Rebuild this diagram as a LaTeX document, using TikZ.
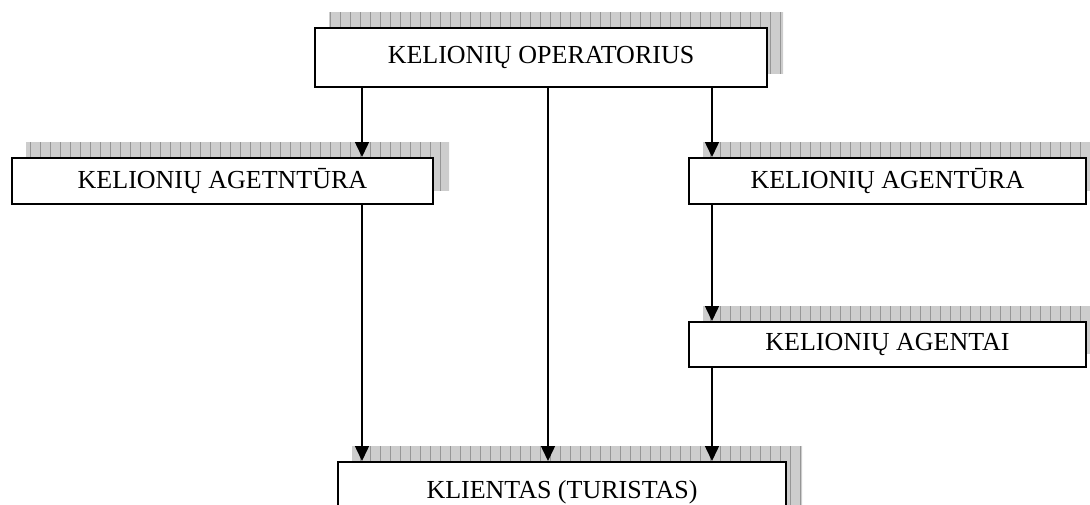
\documentclass[tikz,border=0pt]{standalone}
\usepackage{fontspec}
\setmainfont{Liberation Serif}
\usetikzlibrary{arrows.meta,backgrounds}
\definecolor{shfill}{HTML}{CDCDCD}
\definecolor{shgrid}{HTML}{969696}
\tikzset{
  box/.style={draw=black, line width=2pt, fill=white, anchor=north west, inner sep=0pt,
    font=\fontsize{26}{30}\selectfont},
  arr/.style={line width=1.5pt, -{Triangle[length=15pt,width=14pt]}},
  shgridline/.style={draw=shgrid, line width=0.7pt}
}
\newcommand\myshadow[1]{%
  \begin{scope}
    \clip ([shift={(15pt,15pt)}]#1.south west) rectangle ([shift={(15pt,15pt)}]#1.north east);
    \fill[shfill] (0,0) rectangle (1110,530);
    \draw[shgridline] (0,2) grid[step=10] (1110,532);
  \end{scope}}
\begin{document}
\begin{tikzpicture}[x=1pt,y=-1pt]
\useasboundingbox (0,0) rectangle (1090,504);
\node[box, minimum width=452pt, minimum height=59pt] (op) at (314,27) {KELIONIŲ OPERATORIUS};
\node[box, minimum width=421pt, minimum height=46pt] (ag1) at (11,157) {KELIONIŲ AGETNTŪRA};
\node[box, minimum width=397pt, minimum height=46pt] (ag2) at (688,157) {KELIONIŲ AGENTŪRA};
\node[box, minimum width=397pt, minimum height=45pt] (agt) at (688,321) {KELIONIŲ AGENTAI};
\node[box, minimum width=448pt, minimum height=60pt] (cl) at (337,461) {KLIENTAS (TURISTAS)};
\begin{scope}[on background layer]
  \myshadow{op}
  \myshadow{ag1}
  \myshadow{ag2}
  \myshadow{agt}
  \myshadow{cl}
\end{scope}
\coordinate (xl) at (362,0);
\coordinate (xm) at (548,0);
\coordinate (xr) at (712,0);
\draw[arr] (xl |- op.south) -- (xl |- ag1.north);
\draw[arr] (xl |- ag1.south) -- (xl |- cl.north);
\draw[arr] (xm |- op.south) -- (xm |- cl.north);
\draw[arr] (xr |- op.south) -- (xr |- ag2.north);
\draw[arr] (xr |- ag2.south) -- (xr |- agt.north);
\draw[arr] (xr |- agt.south) -- (xr |- cl.north);
\end{tikzpicture}
\end{document}
